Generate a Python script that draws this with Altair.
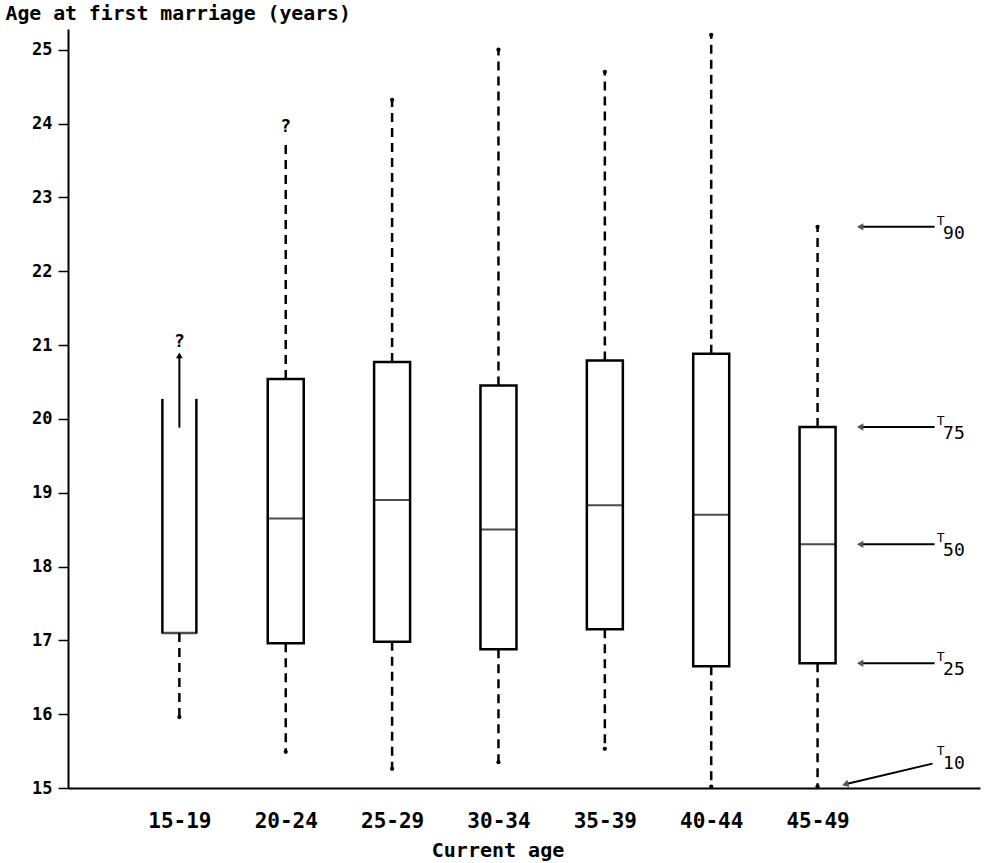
import altair as alt
import pandas as pd

categories = ["15-19", "20-24", "25-29", "30-34", "35-39", "40-44", "45-49"]
q1 = [17.10, 16.96, 16.98, 16.88, 17.15, 16.65, 16.69]
median = [None, 18.65, 18.90, 18.50, 18.83, 18.70, 18.30]
q3 = [None, 20.54, 20.77, 20.45, 20.79, 20.88, 19.89]
upper = [None, 23.75, 24.32, 25.00, 24.70, 25.20, 22.60]
upper_dot = [False, False, True, True, True, True, True]
lower = [15.96, 15.49, 15.26, 15.35, 15.53, 15.02, 15.02]

# 15-19: open box (no upper quartile known)
open_top = [20.27]
open_arrow = [19.88, 20.86]
question_cat = ["15-19", "20-24"]
question_val = [21.04, 23.95]

t_labels = ["90", "75", "50", "25"]
t_values = [upper[6], q3[6], median[6], q1[6]]
t10_label = ["10"]
t10_from = [15.33]
t10_to = [15.05]

idx = list(range(1, len(categories) + 1))
df = pd.DataFrame({"cat": categories, "idx": idx, "q1": q1, "median": median,
                   "q3": q3, "upper": upper, "udot": upper_dot, "lower": lower})
full = df[df["q3"].notna()]
first = df[df["q3"].isna()].assign(top=open_top, a0=open_arrow[0], a1=open_arrow[1])
qdf = pd.DataFrame({"idx": [categories.index(c) + 1 for c in question_cat], "v": question_val})
tdf = pd.DataFrame({"lab": t_labels, "v": t_values})
t10 = pd.DataFrame({"lab": t10_label, "v0": t10_from, "v1": t10_to})

FONT = "DejaVu Sans Mono"
label_expr = "[" + ",".join("'%s'" % c for c in categories) + "][datum.value - 1]"

xs = alt.Scale(domain=[0, 8.48], nice=False, zero=False)
ys = alt.Scale(domain=[15, 25.28], nice=False, zero=False)

X = alt.X("idx:Q", scale=xs, axis=alt.Axis(
    values=idx, labelExpr=label_expr, ticks=False, grid=False,
    domainColor="black", domainWidth=2, labelFont=FONT, labelFontWeight="bold",
    labelFontSize=21, labelColor="black", labelPadding=22,
    title="Current age", titleFont=FONT, titleFontWeight="bold", titleFontSize=20,
    titleColor="black", titleX=429.5, titleY=62, titleAlign="center",
    titleBaseline="middle", titleAnchor="start"))
Y = alt.Y("q1:Q", scale=ys, axis=alt.Axis(
    values=list(range(15, 26)), format="d", grid=False, tickSize=10, tickWidth=1.5,
    tickColor="black", domainColor="black", domainWidth=2,
    labelFont=FONT, labelFontWeight="bold", labelFontSize=17, labelColor="black",
    labelPadding=6,
    title="Age at first marriage (years)", titleFont=FONT, titleFontWeight="bold",
    titleFontSize=19.8, titleColor="black", titleAngle=0, titleX=-63, titleY=-16,
    titleAlign="left", titleBaseline="middle", titleAnchor="start"))

dash = [9, 6]

up_wh = alt.Chart(full).mark_rule(strokeDash=dash, strokeWidth=2.5, color="black").encode(
    x=X, y=alt.Y("q3:Q", scale=ys), y2="upper:Q")
lo_wh = alt.Chart(df).mark_rule(strokeDash=dash, strokeWidth=2.5, color="black").encode(
    x=X, y=Y, y2="lower:Q")
boxes = alt.Chart(full).mark_bar(width=36, fill="white", stroke="black", strokeWidth=2.5).encode(
    x="idx:Q", y=alt.Y("q1:Q", scale=ys), y2="q3:Q")
meds = alt.Chart(full).mark_tick(orient="horizontal", size=36, thickness=2, color="black").encode(
    x="idx:Q", y=alt.Y("median:Q", scale=ys))
up_dots = alt.Chart(full[full["udot"]]).mark_point(filled=True, size=18, color="black", opacity=1).encode(
    x="idx:Q", y=alt.Y("upper:Q", scale=ys))
lo_dots = alt.Chart(df).mark_point(filled=True, size=18, color="black", opacity=1).encode(
    x="idx:Q", y=alt.Y("lower:Q", scale=ys))

side_l = alt.Chart(first).mark_rule(strokeWidth=2.5, color="black", xOffset=-17).encode(
    x="idx:Q", y=alt.Y("q1:Q", scale=ys), y2="top:Q")
side_r = alt.Chart(first).mark_rule(strokeWidth=2.5, color="black", xOffset=17).encode(
    x="idx:Q", y=alt.Y("q1:Q", scale=ys), y2="top:Q")
bottom = alt.Chart(first).mark_tick(orient="horizontal", size=36, thickness=2.5, color="black").encode(
    x="idx:Q", y=alt.Y("q1:Q", scale=ys))
arrow = alt.Chart(first).mark_rule(strokeWidth=2, color="black").encode(
    x="idx:Q", y=alt.Y("a0:Q", scale=ys), y2="a1:Q")
arrow_head = alt.Chart(first).mark_point(shape="triangle-up", filled=True, size=45, color="black", opacity=1).encode(
    x="idx:Q", y=alt.Y("a1:Q", scale=ys))
qmarks = alt.Chart(qdf).mark_text(text="?", font=FONT, fontWeight="bold", fontSize=18, color="black").encode(
    x="idx:Q", y=alt.Y("v:Q", scale=ys))

t_lines = alt.Chart(tdf).mark_rule(strokeWidth=2, color="black").encode(
    x=alt.datum(8.10, scale=xs), x2=alt.datum(7.40), y=alt.Y("v:Q", scale=ys))
t_heads = alt.Chart(tdf).mark_point(shape="triangle-left", filled=True, size=55, color="#555", opacity=1).encode(
    x=alt.datum(7.40, scale=xs), y=alt.Y("v:Q", scale=ys))
t_T = alt.Chart(tdf).mark_text(text="T", font=FONT, fontSize=13, align="left", baseline="bottom",
                               dy=1, color="black").encode(
    x=alt.datum(8.12, scale=xs), y=alt.Y("v:Q", scale=ys))
t_num = alt.Chart(tdf).mark_text(font=FONT, fontSize=18, align="left", baseline="top",
                                 dy=-2, color="black").encode(
    x=alt.datum(8.18, scale=xs), y=alt.Y("v:Q", scale=ys), text="lab:N")

t10_line = alt.Chart(t10).mark_rule(strokeWidth=2, color="black").encode(
    x=alt.datum(8.08, scale=xs), x2=alt.datum(7.26), y=alt.Y("v0:Q", scale=ys), y2="v1:Q")
t10_head = alt.Chart(t10).mark_point(shape="triangle-left", filled=True, size=55, color="#555",
                                     opacity=1, angle=344).encode(
    x=alt.datum(7.26, scale=xs), y=alt.Y("v1:Q", scale=ys))
t10_T = alt.Chart(t10).mark_text(text="T", font=FONT, fontSize=13, align="left", baseline="bottom",
                                 dy=-6, color="black").encode(
    x=alt.datum(8.12, scale=xs), y=alt.Y("v0:Q", scale=ys))
t10_num = alt.Chart(t10).mark_text(font=FONT, fontSize=18, align="left", baseline="top",
                                   dy=-9, color="black").encode(
    x=alt.datum(8.18, scale=xs), y=alt.Y("v0:Q", scale=ys), text="lab:N")

chart = alt.layer(
    lo_wh, up_wh, boxes, meds, up_dots, lo_dots, side_l, side_r, bottom, arrow, arrow_head,
    qmarks, t_lines, t_heads, t_T, t_num, t10_line, t10_head, t10_T, t10_num
).properties(
    width=912, height=759,
    autosize=alt.AutoSizeParams(type="none"),
    padding={"left": 68, "top": 29, "right": 7, "bottom": 75},
    background="white",
).configure_view(stroke=None)

chart.save("out.html", embed_options={"renderer": "svg", "actions": False})
